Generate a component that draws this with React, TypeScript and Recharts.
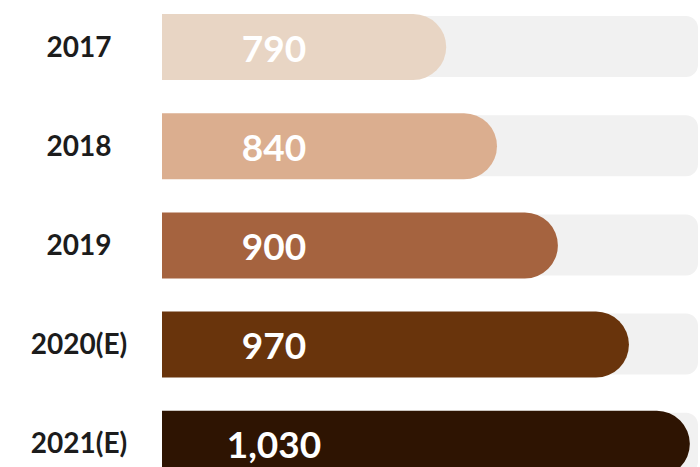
import { BarChart, Bar, XAxis, YAxis, Cell, LabelList } from "recharts";

const years = ["2017", "2018", "2019", "2020(E)", "2021(E)"];
const values = [790, 840, 900, 970, 1030];
const trackValue = 1038;
const colors = ["#e8d5c4", "#dbae8f", "#a5633f", "#69340c", "#2e1402"];

const data = years.map((year, i) => ({
  year,
  value: values[i],
  track: trackValue,
}));

const FONT = "Lato, 'Open Sans', sans-serif";

function YearTick(props: any) {
  const { x, y, payload } = props;
  return (
    <text
      x={x - 75}
      y={y - 1}
      textAnchor="middle"
      dominantBaseline="central"
      fill="#1c1c1c"
      fontFamily={FONT}
      fontWeight={700}
      fontSize={28}
    >
      {payload.value}
    </text>
  );
}

function ValueLabel(props: any) {
  const { x, y, height, value } = props;
  return (
    <text
      x={x + 112}
      y={y + height / 2}
      textAnchor="middle"
      dominantBaseline="central"
      fill="#ffffff"
      fontFamily={FONT}
      fontWeight={700}
      fontSize={37}
    >
      {Number(value).toLocaleString("en-US")}
    </text>
  );
}

export default function App() {
  return (
    <div
      style={{
        position: "absolute",
        left: 0,
        top: 0,
        width: 700,
        height: 467,
        overflow: "hidden",
        background: "#ffffff",
      }}
    >
      <BarChart
        width={700}
        height={493}
        data={data}
        layout="vertical"
        margin={{ top: -3, right: 0, left: 0, bottom: 0 }}
      >
        <XAxis type="number" domain={[510, 1040]} hide allowDataOverflow />
        <YAxis
          yAxisId="main"
          type="category"
          dataKey="year"
          width={162}
          axisLine={false}
          tickLine={false}
          tick={<YearTick />}
        />
        <YAxis yAxisId="track" type="category" dataKey="year" hide />
        <Bar
          yAxisId="track"
          dataKey="track"
          fill="#f1f1f1"
          barSize={61}
          radius={[0, 12, 12, 0]}
          isAnimationActive={false}
        />
        <Bar
          yAxisId="main"
          dataKey="value"
          barSize={66}
          radius={[0, 33, 33, 0]}
          isAnimationActive={false}
        >
          {data.map((d, i) => (
            <Cell key={d.year} fill={colors[i]} />
          ))}
          <LabelList dataKey="value" content={<ValueLabel />} />
        </Bar>
      </BarChart>
    </div>
  );
}
